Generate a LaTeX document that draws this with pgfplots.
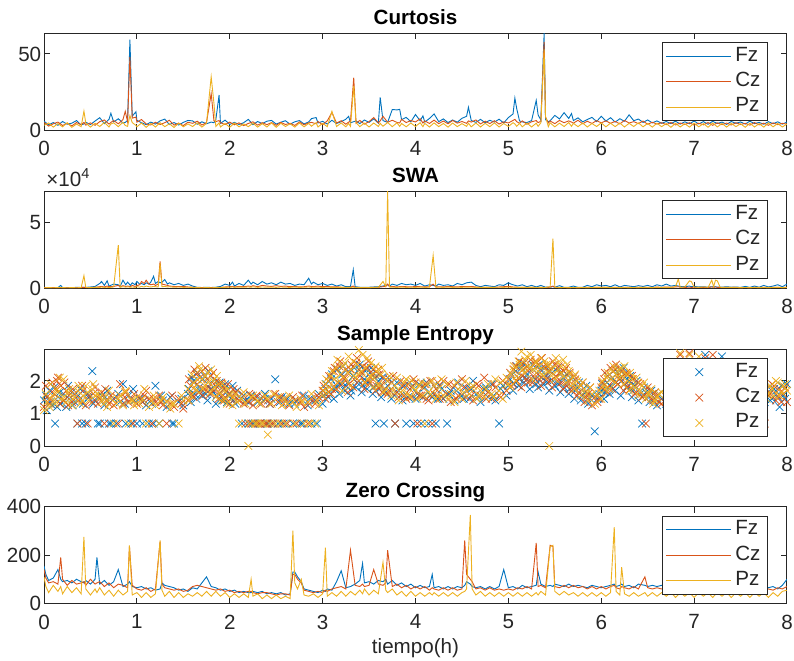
\documentclass[border=0pt]{standalone}
\usepackage{pgfplots}
\pgfplotsset{compat=1.18}
\usepackage{pgfplotstable}
\usepackage{fontspec}
\setmainfont{Liberation Sans}
\definecolor{c1}{rgb}{0,0.447,0.741}
\definecolor{c2}{rgb}{0.85,0.325,0.098}
\definecolor{c3}{rgb}{0.929,0.694,0.125}
\definecolor{axc}{rgb}{0.15,0.15,0.15}

\pgfplotstableread{
x fz cz pz
0.00 5.8 4.9 3.1
0.05 3.4 2.6 4.6
0.10 4.9 4.1 1.9
0.15 3.1 5.2 4.2
0.20 5.6 3.0 2.1
0.25 3.8 4.4 4.8
0.30 4.5 2.7 1.8
0.35 6.2 4.9 3.9
0.40 3.3 3.5 2.2
0.43 4.0 5.0 12.4
0.45 5.1 3.2 4.5
0.50 3.6 4.7 1.9
0.55 5.9 3.1 4.4
0.60 8.1 5.5 2.3
0.65 4.2 6.6 5.0
0.70 7.0 3.9 2.0
0.72 11.0 5.0 4.0
0.75 5.3 6.2 4.7
0.80 7.4 4.1 2.2
0.85 4.6 6.8 5.1
0.875 5.0 12.3 3.0
0.90 6.3 5.4 2.4
0.925 59.5 48.0 9.5
0.95 9.1 7.8 4.9
0.99 12.0 8.5 3.0
1.00 6.4 5.2 2.1
1.05 4.8 6.9 4.6
1.10 3.5 4.0 1.8
1.15 5.2 3.3 4.3
1.20 3.9 5.1 2.0
1.25 6.0 3.6 4.8
1.30 7.2 4.8 2.2
1.35 3.6 6.4 4.1
1.40 4.9 3.2 1.7
1.45 3.3 4.5 4.5
1.50 5.0 2.9 2.1
1.55 6.3 5.1 4.0
1.60 6.0 4.4 2.3
1.65 3.8 5.8 4.7
1.70 5.4 3.3 1.9
1.75 4.1 4.9 4.4
1.80 5.2 24.0 35.0
1.83 4.8 6.0 17.5
1.85 6.6 5.5 2.4
1.885 23.0 6.2 4.6
1.90 4.4 4.8 2.0
1.95 6.5 3.6 4.3
2.00 3.7 5.2 1.8
2.05 5.0 3.4 4.6
2.10 3.6 4.7 2.1
2.15 4.8 2.9 4.0
2.20 7.0 4.3 2.2
2.25 3.5 5.4 4.5
2.30 5.6 3.2 1.9
2.35 4.2 4.8 4.2
2.40 5.8 3.5 2.0
2.45 6.3 4.9 4.7
2.50 3.9 3.1 1.8
2.55 5.1 5.0 4.4
2.60 6.1 3.6 2.3
2.65 3.8 4.4 4.1
2.70 5.4 3.0 1.9
2.75 6.2 5.3 4.6
2.80 4.0 3.4 2.1
2.85 5.3 4.7 4.3
2.88 7.5 5.0 2.5
2.93 8.2 4.1 4.8
2.95 4.6 5.6 2.0
3.00 5.7 3.5 4.4
3.05 3.9 6.0 2.2
3.10 6.4 11.5 12.3
3.15 4.3 4.6 2.3
3.20 5.5 6.1 4.6
3.25 7.1 3.8 2.1
3.28 9.0 5.2 4.3
3.30 4.7 5.8 2.4
3.335 5.5 34.5 29.0
3.36 6.0 4.4 4.8
3.40 4.2 6.3 2.2
3.45 6.6 3.9 4.5
3.50 5.0 5.5 2.0
3.55 7.3 8.2 4.6
3.60 4.5 4.7 2.3
3.62 21.5 6.0 4.4
3.65 6.2 9.0 2.5
3.70 5.0 5.1 4.9
3.75 13.5 6.4 2.2
3.80 13.2 5.0 4.7
3.83 13.6 4.6 2.4
3.85 6.8 7.0 4.3
3.90 8.3 4.9 2.1
3.95 5.4 6.2 4.6
4.00 10.2 5.3 2.3
4.05 6.1 7.4 4.8
4.08 9.3 4.6 2.2
4.10 5.2 6.0 4.4
4.15 7.6 4.3 2.0
4.20 10.6 6.5 4.7
4.25 5.5 4.2 2.2
4.30 7.3 5.9 4.3
4.35 4.9 4.1 1.9
4.40 6.6 6.3 4.6
4.45 5.1 4.5 2.2
4.50 7.7 5.6 4.2
4.55 9.0 4.4 2.4
4.57 15.0 6.0 4.5
4.60 6.3 5.2 2.1
4.65 5.0 6.6 4.6
4.70 7.0 4.0 2.0
4.75 4.8 5.8 4.4
4.80 6.4 4.2 2.2
4.85 5.2 6.1 4.7
4.90 7.1 3.9 2.0
4.95 4.6 5.4 4.3
5.00 8.2 4.6 2.3
5.05 10.5 6.3 4.8
5.07 21.0 7.0 4.0
5.09 14.0 5.5 2.4
5.12 6.0 4.4 4.4
5.15 5.3 6.0 2.1
5.20 4.9 3.8 4.6
5.25 6.2 5.4 2.0
5.30 19.5 6.2 4.5
5.32 10.0 4.9 2.4
5.35 6.5 5.7 4.8
5.385 63.8 58.0 53.0
5.40 6.8 8.5 9.0
5.43 5.4 4.6 2.2
5.45 6.1 5.9 4.7
5.50 9.6 4.2 2.1
5.55 7.3 6.3 4.5
5.60 11.4 4.8 2.3
5.65 7.6 6.0 4.9
5.68 10.8 5.2 2.4
5.70 6.2 4.5 4.4
5.75 8.0 6.4 2.2
5.80 5.4 4.1 4.6
5.85 6.9 5.8 2.0
5.90 8.3 4.3 4.3
5.95 5.6 6.2 2.3
6.00 9.0 4.7 4.7
6.05 5.9 6.0 2.1
6.10 8.1 4.4 4.5
6.15 5.2 5.7 2.2
6.20 7.4 4.0 4.6
6.25 5.8 6.3 2.0
6.30 10.0 4.6 4.4
6.35 6.1 5.5 2.3
6.40 7.2 4.2 4.7
6.45 5.0 5.9 2.1
6.50 6.6 3.8 4.3
6.55 4.7 5.1 1.9
6.60 6.0 3.9 4.5
6.65 4.4 4.8 2.2
6.70 5.6 3.5 4.2
6.75 4.2 4.9 1.8
6.80 5.8 3.3 4.4
6.85 3.9 4.6 2.0
6.90 5.4 3.6 4.1
6.95 4.1 4.8 1.9
7.00 5.9 3.2 4.5
7.05 4.0 4.5 2.1
7.10 5.5 3.4 4.2
7.15 3.8 4.9 1.8
7.20 5.7 3.1 4.6
7.25 4.3 4.7 2.0
7.30 5.2 3.5 4.3
7.35 3.7 4.6 1.9
7.40 5.6 3.3 4.4
7.45 4.4 4.8 2.2
7.50 5.3 3.6 4.1
7.55 3.9 4.4 1.8
7.60 5.8 3.2 4.5
7.65 4.2 4.9 2.0
7.70 5.0 3.4 4.2
7.75 3.8 4.5 1.9
7.80 5.5 3.1 4.6
7.85 4.1 4.7 2.1
7.90 5.4 3.5 4.3
7.95 3.9 4.4 2.0
8.00 5.2 3.8 4.0
}\curt

\pgfplotstableread{
x fz cz pz
0.00 0.05 0.03 0.02
0.05 0.02 0.02 0.03
0.10 0.04 0.03 0.02
0.15 0.03 0.02 0.03
0.18 0.20 0.04 0.02
0.20 0.03 0.03 0.03
0.25 0.04 0.02 0.02
0.30 0.03 0.03 0.03
0.35 0.05 0.02 0.02
0.40 0.04 0.04 0.03
0.43 0.06 0.05 0.95
0.45 0.05 0.03 0.04
0.50 0.08 0.04 0.03
0.55 0.12 0.06 0.05
0.60 0.35 0.10 0.04
0.62 0.50 0.12 0.08
0.65 0.20 0.08 0.05
0.68 0.55 0.15 0.06
0.70 0.15 0.10 0.04
0.75 0.30 0.12 0.08
0.80 0.25 0.20 3.30
0.82 0.12 0.08 0.06
0.85 0.60 0.18 0.10
0.88 0.25 0.12 0.07
0.90 0.45 0.15 0.09
0.93 0.20 0.10 0.06
0.95 0.40 0.20 0.08
0.98 0.25 0.12 0.05
1.00 0.50 0.18 0.10
1.03 0.30 0.25 0.07
1.05 0.35 0.50 0.12
1.08 0.25 0.35 0.08
1.10 0.40 0.60 0.15
1.13 0.30 0.30 0.10
1.15 0.45 0.25 0.08
1.18 0.90 0.30 0.12
1.20 0.35 0.20 0.10
1.23 0.50 0.30 0.08
1.25 0.40 2.05 1.90
1.27 0.45 0.30 0.10
1.30 0.65 0.25 0.12
1.33 0.30 0.20 0.08
1.35 0.40 0.15 0.10
1.40 0.25 0.12 0.06
1.45 0.35 0.10 0.08
1.50 0.20 0.12 0.05
1.55 0.30 0.08 0.06
1.60 0.15 0.06 0.04
1.65 0.05 0.04 0.03
1.70 0.04 0.03 0.02
1.75 0.05 0.04 0.03
1.80 0.04 0.03 0.02
1.85 0.06 0.04 0.03
1.90 0.12 0.05 0.04
1.95 0.30 0.08 0.05
2.00 0.20 0.10 0.06
2.03 0.45 0.12 0.08
2.05 0.15 0.08 0.05
2.10 0.35 0.12 0.07
2.15 0.20 0.10 0.06
2.20 0.60 0.15 0.08
2.23 0.30 0.12 0.06
2.25 0.45 0.18 0.09
2.30 0.25 0.10 0.05
2.35 0.50 0.20 0.08
2.40 0.30 0.15 0.06
2.45 0.40 0.12 0.07
2.50 0.25 0.18 0.05
2.55 0.45 0.12 0.08
2.60 0.30 0.15 0.06
2.65 0.35 0.10 0.05
2.70 0.20 0.12 0.07
2.75 0.30 0.08 0.05
2.80 0.25 0.10 0.06
2.85 0.75 0.15 0.08
2.88 0.30 0.12 0.05
2.90 0.45 0.10 0.07
2.95 0.25 0.15 0.06
3.00 0.35 0.10 0.05
3.05 0.20 0.12 0.06
3.10 0.30 0.08 0.05
3.15 0.15 0.10 0.04
3.20 0.25 0.06 0.05
3.25 0.10 0.05 0.04
3.30 0.12 0.06 0.05
3.33 1.40 0.15 0.06
3.35 0.10 0.05 0.04
3.40 0.06 0.04 0.03
3.45 0.05 0.03 0.04
3.50 0.06 0.04 0.03
3.55 0.08 0.05 0.04
3.60 0.10 0.06 0.05
3.65 0.15 0.10 0.50
3.68 0.20 0.12 0.10
3.70 0.25 0.30 7.45
3.72 0.15 0.10 0.08
3.75 0.30 0.12 0.06
3.80 0.20 0.08 0.05
3.85 0.35 0.12 0.07
3.90 0.25 0.10 0.05
3.95 0.30 0.08 0.06
4.00 0.20 0.12 0.05
4.05 0.35 0.10 0.07
4.10 0.15 0.08 0.05
4.15 0.25 0.10 0.06
4.19 0.20 0.30 2.50
4.22 0.15 0.08 0.05
4.25 0.30 0.10 0.06
4.30 0.20 0.08 0.05
4.35 0.25 0.12 0.07
4.40 0.15 0.10 0.05
4.45 0.35 0.08 0.06
4.50 0.25 0.12 0.05
4.55 0.40 0.10 0.07
4.60 0.45 0.12 0.06
4.65 0.20 0.08 0.05
4.70 0.10 0.06 0.04
4.75 0.20 0.05 0.05
4.80 0.15 0.06 0.04
4.85 0.10 0.05 0.05
4.90 0.25 0.08 0.06
4.95 0.20 0.10 0.05
5.00 0.40 0.12 0.07
5.03 0.30 0.10 0.05
5.05 0.25 0.08 0.06
5.10 0.15 0.06 0.04
5.15 0.25 0.05 0.05
5.20 0.10 0.06 0.04
5.25 0.20 0.05 0.05
5.30 0.08 0.04 0.04
5.35 0.20 0.05 0.03
5.40 0.06 0.04 0.04
5.45 0.08 0.06 0.10
5.48 0.10 0.15 3.80
5.50 0.06 0.05 0.05
5.55 0.18 0.04 0.03
5.60 0.05 0.04 0.04
5.65 0.06 0.03 0.03
5.70 0.15 0.04 0.04
5.75 0.05 0.03 0.03
5.80 0.06 0.04 0.04
5.85 0.20 0.05 0.03
5.90 0.10 0.04 0.04
5.95 0.25 0.06 0.05
6.00 0.15 0.05 0.04
6.05 0.20 0.06 0.05
6.10 0.10 0.04 0.03
6.15 0.25 0.05 0.04
6.20 0.08 0.04 0.03
6.25 0.20 0.06 0.04
6.30 0.15 0.05 0.03
6.35 0.10 0.04 0.04
6.40 0.18 0.06 0.03
6.45 0.12 0.04 0.05
6.50 0.20 0.06 0.04
6.55 0.10 0.05 0.03
6.60 0.25 0.07 0.05
6.65 0.15 0.05 0.04
6.70 0.30 0.08 0.05
6.75 0.15 0.06 0.04
6.80 0.20 0.08 0.10
6.83 0.15 0.10 0.70
6.85 0.12 0.06 0.05
6.90 0.10 0.05 0.08
6.95 0.15 0.06 0.55
6.97 0.10 0.05 0.50
7.00 0.12 0.06 0.06
7.05 0.08 0.04 0.05
7.10 0.10 0.05 0.08
7.15 0.06 0.04 0.05
7.19 0.10 0.08 0.60
7.21 0.08 0.06 0.10
7.23 0.10 0.08 0.60
7.25 0.06 0.05 0.55
7.28 0.08 0.04 0.06
7.30 0.06 0.04 0.05
7.35 0.10 0.05 0.04
7.40 0.06 0.04 0.05
7.45 0.08 0.05 0.04
7.50 0.05 0.03 0.03
7.55 0.12 0.04 0.04
7.60 0.05 0.03 0.03
7.65 0.15 0.05 0.04
7.70 0.06 0.04 0.03
7.75 0.20 0.05 0.04
7.80 0.08 0.04 0.03
7.85 0.15 0.05 0.04
7.90 0.25 0.06 0.05
7.95 0.10 0.04 0.03
8.00 0.30 0.05 0.04
}\swa

\pgfplotstableread{
x fz cz pz
0.00 1.40 1.20 1.10
0.03 1.10 1.50 1.35
0.06 1.70 1.30 1.20
0.09 1.25 1.95 1.55
0.12 0.69 1.75 1.30
0.15 1.50 2.10 1.65
0.18 1.30 1.85 1.45
0.21 1.60 1.40 2.05
0.24 1.20 1.70 1.35
0.27 1.45 1.55 1.75
0.30 1.65 1.35 1.25
0.33 1.35 1.60 1.50
0.36 0.69 0.69 1.70
0.39 1.75 1.45 1.30
0.42 1.30 1.70 1.55
0.45 0.69 1.25 1.85
0.48 1.50 1.55 1.40
0.52 2.30 1.35 1.75
0.55 1.40 1.80 1.55
0.58 0.69 1.30 1.60
0.62 1.55 1.65 1.35
0.65 1.25 0.69 1.50
0.68 1.70 1.40 1.20
0.72 0.69 1.55 1.45
0.75 1.45 1.25 0.69
0.78 0.69 1.50 1.30
0.82 1.35 1.90 1.55
0.85 1.90 1.30 1.25
0.88 0.69 1.65 1.70
0.91 1.55 1.35 0.69
0.94 0.69 1.45 1.40
0.97 1.40 1.60 1.25
1.00 0.69 1.30 1.50
1.03 1.45 1.50 1.30
1.06 0.69 1.35 1.45
1.10 1.25 1.70 0.69
1.13 0.69 1.45 1.20
1.16 1.30 0.69 1.40
1.20 1.85 1.35 1.25
1.24 0.69 1.55 0.69
1.28 1.40 1.25 1.50
1.32 1.20 0.69 1.35
1.36 1.50 1.30 1.15
1.40 0.69 1.20 1.30
1.45 1.35 1.45 0.69
1.50 1.25 1.15 1.40
1.55 1.60 1.40 1.75
1.58 1.35 1.85 1.55
1.61 2.00 1.50 1.95
1.64 1.45 2.20 1.70
1.67 1.80 1.65 2.45
1.70 1.55 2.30 2.05
1.73 2.15 1.75 1.85
1.76 1.40 2.05 2.25
1.79 1.90 1.60 1.65
1.82 1.65 2.25 2.00
1.85 1.30 1.85 1.50
1.88 1.85 1.45 1.90
1.91 1.50 1.95 1.40
1.94 1.75 1.40 1.70
1.97 1.35 1.70 1.30
2.00 1.60 1.30 1.55
2.03 1.85 1.50 1.25
2.06 1.30 1.65 1.60
2.10 1.50 1.40 0.69
2.13 0.69 1.60 1.45
2.17 1.40 0.69 1.30
2.20 0.69 1.35 0.00
2.23 1.55 0.69 1.50
2.27 0.69 1.45 0.69
2.30 1.35 0.69 1.40
2.34 0.69 1.30 0.69
2.38 1.60 0.69 1.55
2.41 0.69 1.40 0.35
2.45 1.45 0.69 1.30
2.49 2.05 1.60 0.69
2.52 0.69 1.35 1.50
2.56 1.50 0.69 1.25
2.60 0.69 1.45 0.69
2.64 1.30 1.25 1.55
2.68 0.69 1.50 1.35
2.72 1.40 0.69 1.20
2.76 0.69 1.35 1.45
2.80 1.55 1.20 0.69
2.84 1.25 0.69 1.35
2.88 0.69 1.45 1.60
2.92 1.40 1.30 0.69
2.96 1.60 1.50 1.25
3.00 1.30 1.70 1.55
3.03 1.75 1.45 1.90
3.06 1.50 2.00 1.65
3.09 2.05 1.60 2.15
3.12 1.45 2.30 1.80
3.15 1.85 1.75 2.40
3.18 1.60 2.45 2.00
3.21 2.20 1.90 1.70
3.24 1.70 2.10 2.55
3.27 1.95 1.65 2.25
3.30 1.55 2.35 1.85
3.33 2.15 1.80 2.60
3.36 1.80 2.55 2.10
3.39 2.35 2.00 2.95
3.42 1.65 2.25 2.30
3.45 2.05 1.75 1.95
3.48 1.75 2.40 2.70
3.51 2.25 1.95 2.15
3.54 1.60 2.20 1.80
3.57 0.69 1.70 2.45
3.60 2.00 2.35 1.90
3.63 1.50 1.85 2.20
3.66 0.69 2.10 1.65
3.70 1.85 1.60 2.00
3.74 1.45 1.95 1.55
3.78 0.69 0.69 1.85
3.82 1.70 1.50 1.40
3.86 1.40 1.85 1.70
3.90 0.69 1.45 2.05
3.94 1.95 1.75 1.50
3.98 0.69 2.05 1.80
4.02 1.60 0.69 1.45
4.06 0.69 1.55 1.95
4.10 1.80 1.90 0.69
4.14 0.69 1.40 1.65
4.18 1.50 0.69 2.00
4.22 0.69 1.75 1.45
4.26 1.85 1.45 1.80
4.30 1.45 2.00 1.55
4.34 0.69 1.60 1.90
4.38 1.70 1.35 1.60
4.42 1.40 1.85 1.35
4.46 1.95 1.55 1.75
4.50 1.55 2.05 1.45
4.54 1.80 1.50 2.00
4.58 1.45 1.75 1.60
4.62 2.00 1.40 1.85
4.66 1.60 1.90 1.45
4.70 1.35 1.55 1.70
4.74 1.75 2.10 1.50
4.78 1.50 1.65 1.90
4.82 1.90 1.45 1.60
4.86 1.40 1.80 2.05
4.90 0.69 1.55 1.70
4.94 1.85 2.00 1.45
4.98 1.55 1.70 2.10
5.02 2.05 2.25 1.80
5.05 1.70 1.90 2.35
5.08 2.30 2.45 2.00
5.11 1.85 2.10 2.60
5.14 2.40 1.80 2.90
5.17 1.95 2.55 2.25
5.20 2.20 2.05 2.75
5.23 1.75 2.35 2.40
5.26 2.50 1.95 2.05
5.29 2.05 2.60 2.55
5.32 1.80 2.20 2.30
5.35 2.35 1.85 2.70
5.38 1.90 2.45 2.15
5.41 2.15 2.05 2.50
5.44 1.70 2.30 0.00
5.47 2.25 1.80 2.35
5.50 1.85 2.50 2.05
5.53 2.40 2.00 2.55
5.56 1.65 2.25 2.20
5.59 2.10 1.75 2.65
5.62 1.95 2.40 1.95
5.65 1.60 2.00 2.30
5.68 2.05 1.70 2.05
5.71 1.45 2.15 1.75
5.74 1.80 1.55 2.00
5.78 1.40 1.85 1.55
5.82 1.65 1.35 1.75
5.86 1.30 1.60 1.40
5.90 1.55 1.25 1.60
5.93 0.45 1.50 1.30
5.96 1.45 1.35 1.55
6.00 1.70 1.80 1.45
6.03 1.45 2.05 1.85
6.06 1.95 1.65 2.10
6.09 1.60 2.20 1.75
6.12 2.10 1.75 2.30
6.15 1.70 2.35 1.95
6.18 2.25 1.90 2.15
6.21 1.55 2.10 2.40
6.24 2.40 1.70 1.90
6.27 1.80 2.25 2.20
6.30 2.00 1.85 1.70
6.33 1.50 2.15 2.05
6.36 1.85 1.60 1.80
6.40 1.40 1.95 1.55
6.44 0.69 1.50 1.85
6.48 1.65 0.69 1.45
6.52 1.35 1.70 1.60
6.56 1.60 1.40 1.30
6.60 1.25 1.55 1.50
6.65 1.45 1.30 1.65
6.70 1.30 1.50 1.40
6.85 2.00 2.80 2.85
6.95 2.10 2.85 2.80
7.05 1.80 2.00 2.75
7.12 2.80 2.70 1.90
7.20 1.60 2.80 2.10
7.30 2.75 1.90 1.70
7.45 1.50 1.70 1.60
7.60 1.40 1.55 1.35
7.70 1.65 1.30 1.50
7.76 1.35 0.69 1.90
7.80 1.80 1.55 1.60
7.84 1.45 1.90 1.75
7.88 1.70 1.40 2.00
7.92 1.20 1.75 1.55
7.96 1.55 1.60 1.85
8.00 1.90 1.35 1.70
}\sampen

\pgfplotstableread{
x fz cz pz
0.02 1.55 1.85 1.60
0.07 1.35 1.45 1.90
0.11 1.80 1.60 1.40
0.14 1.20 2.00 1.75
0.17 1.65 1.30 2.10
0.22 1.40 1.95 1.50
0.26 1.85 1.25 1.65
0.31 1.25 1.75 1.45
0.37 1.55 1.40 1.85
0.41 0.69 1.85 1.40
0.47 1.60 0.69 1.65
0.53 1.30 1.60 1.90
0.60 0.69 1.45 1.50
0.66 1.50 1.75 1.35
0.70 0.69 1.30 1.70
0.80 1.60 0.69 1.45
0.87 1.30 1.50 1.65
0.96 1.75 0.69 1.40
1.08 1.40 1.55 1.75
1.18 0.69 1.45 1.55
1.26 1.55 1.35 1.40
1.38 0.69 1.55 1.30
1.48 1.45 1.30 1.55
1.56 1.75 2.05 1.40
1.59 2.10 1.60 2.20
1.62 1.60 2.35 1.80
1.65 2.25 1.90 2.05
1.68 1.70 2.10 2.35
1.71 2.05 1.55 1.75
1.74 1.60 2.40 2.15
1.77 2.30 1.80 1.95
1.80 1.75 2.15 2.35
1.83 2.05 1.70 1.80
1.86 1.55 2.00 2.15
1.89 1.95 1.60 1.65
1.92 1.40 1.80 1.90
1.95 1.90 1.50 1.45
1.98 1.55 1.90 1.75
2.04 1.40 1.75 1.50
2.08 1.70 1.45 1.35
2.15 1.55 1.30 1.65
2.21 1.35 1.60 0.69
2.25 0.69 1.25 1.55
2.29 1.50 1.55 0.69
2.32 0.69 0.69 1.30
2.36 1.40 1.50 0.69
2.40 0.69 0.69 1.45
2.43 1.30 1.30 0.69
2.47 0.69 0.69 1.60
2.54 1.35 1.50 0.69
2.58 0.69 1.30 1.45
2.62 1.45 0.69 1.30
2.70 1.30 1.40 0.69
2.78 0.69 1.55 1.35
2.86 1.45 1.30 0.69
2.94 0.69 1.55 1.40
3.01 1.55 1.85 1.70
3.04 1.90 1.60 2.05
3.07 1.65 2.15 1.80
3.10 2.20 1.75 2.30
3.13 1.75 2.40 2.05
3.16 2.35 1.95 2.65
3.19 1.90 2.60 2.20
3.22 2.45 2.10 2.45
3.25 1.85 2.35 2.05
3.28 2.30 1.90 2.75
3.31 1.70 2.50 2.35
3.34 2.40 2.05 2.15
3.37 1.95 2.70 2.50
3.40 2.50 2.15 2.25
3.43 1.85 2.45 2.80
3.46 2.30 1.95 2.40
3.49 1.95 2.60 2.05
3.52 2.40 2.10 2.55
3.55 1.80 2.35 2.10
3.58 2.15 1.85 2.30
3.61 1.75 2.20 1.85
3.64 2.10 1.65 2.40
3.68 1.65 2.05 1.75
3.72 2.05 1.70 2.15
3.76 1.60 2.15 1.70
3.80 1.95 1.65 2.10
3.84 1.55 2.00 1.65
3.88 1.85 1.55 1.95
3.92 1.50 1.90 1.60
3.96 1.80 1.50 2.00
4.00 1.45 1.95 1.70
4.04 1.90 1.55 1.85
4.08 1.50 1.80 1.55
4.12 1.95 1.45 1.90
4.16 1.55 2.00 1.60
4.20 1.85 1.60 1.85
4.24 1.45 1.95 1.55
4.28 1.75 1.50 2.05
4.36 1.60 1.90 1.45
4.44 1.70 1.45 1.95
4.52 1.45 1.80 1.65
4.60 1.75 1.55 1.80
4.68 1.50 1.85 1.55
4.76 1.80 1.45 1.75
4.84 1.55 1.90 1.50
4.92 1.75 1.50 1.95
5.00 1.85 2.05 1.90
5.03 2.20 1.85 2.20
5.06 1.90 2.35 2.45
5.09 2.45 2.00 2.15
5.12 2.05 2.60 2.50
5.15 2.55 2.15 2.35
5.18 2.10 2.40 2.65
5.21 2.45 1.95 2.45
5.24 2.00 2.65 2.80
5.27 2.35 2.15 2.35
5.30 1.90 2.45 2.60
5.33 2.50 2.05 2.45
5.36 2.10 2.70 2.20
5.39 2.40 2.10 2.60
5.42 1.95 2.45 2.30
5.45 2.30 2.00 2.50
5.48 2.00 2.60 2.20
5.51 2.35 2.15 2.70
5.54 1.90 2.45 2.35
5.57 2.25 1.95 2.45
5.60 1.80 2.30 2.15
5.63 2.20 1.85 2.50
5.66 1.75 2.25 2.20
5.69 2.10 1.80 1.90
5.72 1.70 2.05 2.20
5.76 1.95 1.65 1.80
5.80 1.55 1.95 1.95
5.84 1.85 1.50 1.60
5.88 1.45 1.80 1.80
5.98 1.60 1.45 1.70
6.01 1.90 1.95 2.00
6.04 1.65 2.25 1.75
6.07 2.15 1.80 2.25
6.10 1.85 2.40 2.05
6.13 2.30 2.00 2.45
6.16 1.95 2.50 2.20
6.19 2.35 2.05 2.35
6.22 2.00 2.30 2.15
6.25 2.20 1.90 2.45
6.28 1.80 2.20 2.00
6.31 2.15 1.75 2.25
6.34 1.70 2.05 1.85
6.38 2.00 1.65 2.10
6.42 1.60 1.90 1.70
6.46 1.80 1.55 1.95
6.50 1.50 1.80 1.60
6.54 1.70 1.45 1.75
6.58 1.45 1.65 1.40
6.62 1.60 1.35 1.60
7.78 1.60 1.75 1.45
7.82 1.40 1.60 1.85
7.86 1.75 1.85 1.55
7.90 1.50 1.55 1.95
7.94 1.85 1.35 1.65
7.98 1.45 1.80 1.90
}\sampenb

\pgfplotstableread{
x fz cz pz
0.00 155 140 110
0.02 120 105 70
0.05 95 85 45
0.10 105 90 75
0.15 140 80 50
0.18 100 190 70
0.20 90 100 40
0.25 95 75 70
0.30 85 95 45
0.35 100 80 65
0.40 90 85 40
0.43 85 90 275
0.45 95 75 60
0.50 80 100 35
0.55 100 80 60
0.57 190 85 45
0.60 80 90 65
0.65 95 70 35
0.70 75 85 55
0.75 90 65 30
0.80 140 80 55
0.85 70 75 35
0.90 80 65 50
0.92 90 235 240
0.95 70 75 35
1.00 65 60 45
1.05 70 55 25
1.10 60 65 45
1.15 65 50 25
1.20 55 60 40
1.25 60 255 260
1.27 85 80 55
1.30 75 65 30
1.35 70 60 50
1.40 65 55 25
1.45 55 60 45
1.50 60 50 25
1.55 50 55 40
1.60 65 70 30
1.65 60 75 45
1.70 85 70 30
1.75 110 65 50
1.80 70 60 30
1.85 65 55 50
1.90 55 60 30
1.95 60 50 45
2.00 50 55 25
2.05 55 45 40
2.10 45 50 25
2.15 50 45 40
2.20 45 50 25
2.23 45 50 100
2.25 50 45 30
2.30 45 40 40
2.35 50 45 20
2.40 40 45 35
2.45 45 40 20
2.50 40 35 35
2.55 45 40 20
2.60 35 40 30
2.65 40 35 20
2.68 130 120 300
2.70 130 120 85
2.73 110 100 60
2.77 90 85 100
2.80 60 55 35
2.85 55 50 30
2.90 50 45 40
2.95 45 50 25
3.00 55 45 40
3.03 50 55 230
3.05 60 50 30
3.10 55 60 45
3.15 90 65 30
3.20 135 70 50
3.25 65 60 30
3.30 70 220 50
3.35 80 75 35
3.40 95 70 55
3.43 165 80 40
3.45 85 70 60
3.50 90 75 35
3.55 80 140 55
3.60 95 80 40
3.65 90 75 170
3.68 100 85 55
3.70 80 220 45
3.75 95 70 60
3.80 75 80 35
3.85 85 65 50
3.90 70 75 30
3.95 80 60 50
4.00 65 70 30
4.05 75 60 45
4.10 65 70 30
4.15 70 55 45
4.18 120 65 35
4.20 65 60 45
4.25 70 55 30
4.30 60 65 45
4.35 70 55 30
4.40 60 65 45
4.45 70 55 30
4.50 65 60 45
4.53 75 260 50
4.55 90 120 60
4.59 80 100 365
4.61 70 90 60
4.65 65 60 35
4.70 70 65 50
4.75 60 55 30
4.80 70 65 45
4.85 60 55 30
4.90 70 60 45
4.95 140 55 30
5.00 65 60 45
5.05 70 55 30
5.10 60 65 45
5.15 75 60 30
5.20 65 70 45
5.25 70 60 30
5.30 75 250 45
5.32 130 70 35
5.35 80 75 50
5.40 70 65 35
5.45 75 240 235
5.48 70 235 240
5.50 80 70 50
5.55 75 65 35
5.60 70 75 50
5.65 80 65 35
5.70 70 75 45
5.75 75 65 30
5.80 70 70 45
5.85 65 60 30
5.90 75 70 45
5.95 70 60 30
6.00 65 70 45
6.05 70 60 30
6.10 75 70 45
6.14 80 75 315
6.16 70 65 50
6.20 75 60 35
6.22 80 70 150
6.25 70 65 40
6.30 75 60 30
6.35 65 70 45
6.40 80 60 30
6.47 75 110 45
6.50 70 65 30
6.55 75 60 45
6.60 70 65 30
6.65 75 60 45
6.70 65 70 30
6.75 75 60 45
6.80 70 65 25
6.85 65 60 45
6.90 75 65 30
6.95 70 55 45
7.00 65 65 25
7.05 70 60 45
7.10 65 55 30
7.15 75 65 45
7.20 65 60 25
7.25 70 55 45
7.30 60 65 30
7.35 70 60 45
7.40 65 55 25
7.45 70 65 45
7.50 60 60 30
7.55 70 55 45
7.60 65 65 25
7.65 70 60 45
7.70 60 55 30
7.75 70 65 45
7.80 65 60 25
7.85 70 55 45
7.90 60 65 30
7.95 75 60 50
8.00 100 70 55
}\zc

\pgfplotsset{
  panel/.style={
    scale only axis, width=371.5pt, height=48.5pt, anchor=south west,
    xmin=0, xmax=8, xtick={0,1,2,3,4,5,6,7,8},
    axis line style={axc, line width=0.5pt},
    every tick/.style={axc, line width=0.5pt},
    major tick length=3pt, tick align=inside,
    ticklabel style={text=axc, font=\fontsize{10.3}{12}\selectfont},
    yticklabel style={inner xsep=1.2pt},
    xticklabel style={yshift=-2pt},
    /pgf/number format/assume math mode=true,
    title style={font=\fontsize{10.3}{12}\selectfont\bfseries, at={(0.5,1)}, anchor=base, yshift=-1.5pt, inner sep=0pt, text=black},
    legend style={at={(0.9744,0.907)}, anchor=north east, draw=axc, line width=0.5pt, fill=white,
      inner xsep=1.75pt, inner ysep=0.5pt, font=\fontsize{10.3}{12}\selectfont, text=axc,
      nodes={inner sep=1.75pt, text depth=0.2em}, cells={anchor=west}},
    legend image code/.code={\path[draw=none,fill=none] (0pt,-1pt) -- (32.5pt,1pt);
      \draw[#1] (0pt,0pt) -- (32.5pt,0pt);},
    every axis plot/.append style={line width=0.45pt},
  },
  sx/.style={only marks, mark=x, mark size=2.7pt, mark options={line width=0.35pt},
    legend image code/.code={\path[draw=none,fill=none] (0pt,-1pt) -- (32.5pt,1pt);
      \draw[#1] plot coordinates {(16.25pt,0pt)};}},
}

\begin{document}
\fontsize{10.3}{12}\selectfont
\begin{tikzpicture}
\useasboundingbox (0pt,0pt) rectangle (397pt,-330pt);

\begin{axis}[panel, at={(22pt,-65pt)}, ymin=0, ymax=63.8, ytick={0,50}, title={Curtosis}]
\addplot[c1] table[x=x,y=fz]{\curt};
\addplot[c2] table[x=x,y=cz]{\curt};
\addplot[c3] table[x=x,y=pz]{\curt};
\legend{Fz,Cz,Pz}
\end{axis}

\begin{axis}[panel, name=ax2, at={(22pt,-144pt)}, ymin=0, ymax=7.45, ytick={0,5}, title={SWA}]
\addplot[c1] table[x=x,y=fz]{\swa};
\addplot[c2] table[x=x,y=cz]{\swa};
\addplot[c3] table[x=x,y=pz]{\swa};
\legend{Fz,Cz,Pz}
\end{axis}
\node[anchor=base west, inner sep=0pt, text=axc, font=\fontsize{10.3}{12}\selectfont] at ([xshift=1pt,yshift=2.5pt]ax2.north west) {×10\textsuperscript{4}};

\begin{axis}[panel, at={(22pt,-223pt)}, ymin=0, ymax=2.98, ytick={0,1,2}, title={Sample Entropy}]
\addplot[c1, sx] table[x=x,y=fz]{\sampen};
\addplot[c1, sx, forget plot] table[x=x,y=fz]{\sampenb};
\addplot[c2, sx] table[x=x,y=cz]{\sampen};
\addplot[c2, sx, forget plot] table[x=x,y=cz]{\sampenb};
\addplot[c3, sx] table[x=x,y=pz]{\sampen};
\addplot[c3, sx, forget plot] table[x=x,y=pz]{\sampenb};
\legend{Fz,Cz,Pz}
\end{axis}

\begin{axis}[panel, at={(22pt,-301.75pt)}, ymin=0, ymax=400, ytick={0,200,400}, title={Zero Crossing},
  xlabel={tiempo(h)}, xlabel style={at={(axis description cs:0.5,0)}, anchor=base, yshift=-25pt, text=axc, font=\fontsize{10.3}{12}\selectfont}]
\addplot[c1] table[x=x,y=fz]{\zc};
\addplot[c2] table[x=x,y=cz]{\zc};
\addplot[c3] table[x=x,y=pz]{\zc};
\legend{Fz,Cz,Pz}
\end{axis}
\end{tikzpicture}
\end{document}
